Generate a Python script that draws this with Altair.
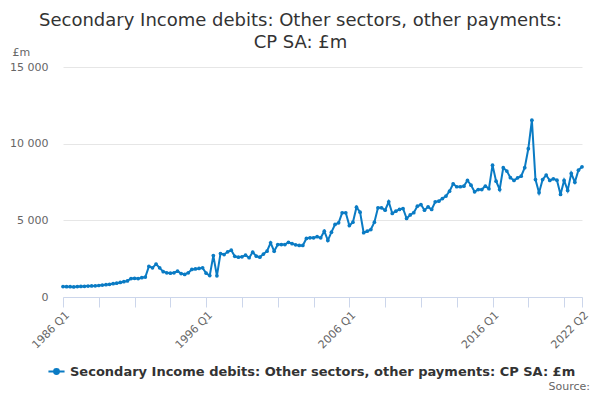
import altair as alt
import pandas as pd

# Quarterly series, 1986 Q1 .. 2022 Q2 (£m)
first_year = 1986
values_1986_1991 = [680, 670, 670, 660, 680, 690, 700, 710, 720, 730, 750, 780,
                    800, 830, 870, 900, 950, 1000, 1050, 1200, 1220, 1200, 1260, 1300]
values_1992_1997 = [2000, 1900, 2150, 1900, 1650, 1580, 1550, 1580, 1680, 1530, 1470, 1580,
                    1800, 1830, 1860, 1900, 1550, 1400, 2700, 1380, 2830, 2770, 2950, 3050]
values_1998_2004 = [2650, 2600, 2620, 2730, 2560, 2920, 2660, 2600, 2800, 2990, 3530, 2990,
                    3420, 3420, 3420, 3570, 3480, 3400, 3360, 3360, 3820, 3860, 3860, 3930,
                    3860, 4290, 3690]
values_2004_2011 = [4230, 4730, 4840, 5490, 5490, 4660, 4880, 5860, 5530, 4190, 4290, 4400,
                    4880, 5820, 5820, 5660, 6210, 5450, 5600, 5710, 5770, 5120, 5350, 5500,
                    5920, 6030, 5660, 5880, 5710, 6210]
values_2012_2017 = [6250, 6420, 6580, 6900, 7380, 7190, 7190, 7230, 7600, 7290, 6860, 7010,
                    7010, 7230, 7060, 8600, 7550, 7010, 8430, 8210, 7780]
values_2017_2022 = [7600, 7770, 7880, 8430, 9670, 11530, 7660, 6800, 7660, 7950, 7600, 7710,
                    7620, 6690, 7600, 6950, 8060, 7490, 8270, 8490]

series_name = "Secondary Income debits: Other sectors, other payments: CP SA: £m"
tick_positions = [0, 10, 20, 30, 40, 50, 60, 70, 80, 90, 100, 110, 120, 130, 140, 145]
labelled_positions = [0, 40, 80, 120, 145]
y_ticks = [0, 5000, 10000, 15000]

values = (values_1986_1991 + values_1992_1997 + values_1998_2004
          + values_2004_2011 + values_2012_2017 + values_2017_2022)
df = pd.DataFrame({
    "idx": list(range(len(values))),
    "value": values,
    "series": series_name,
})

blue = "#0a7bc4"
font = "DejaVu Sans"

label_expr = (
    "indexof([" + ",".join(str(v) for v in labelled_positions) + "], datum.value) >= 0 ? "
    f"(floor(datum.value / 4) + {first_year}) + ' Q' + (datum.value % 4 + 1) : ''"
)

symbol_path = ("M-1,0H1M-0.3,0a0.3,0.3 0 1,0 0.6,0a0.3,0.3 0 1,0 -0.6,0Z")

line = alt.Chart(df).mark_line(
    strokeWidth=2,
    point=alt.OverlayMarkDef(filled=True, size=14, color=blue),
).encode(
    x=alt.X("idx:Q",
            scale=alt.Scale(domain=[0, 145], nice=False, zero=False),
            axis=alt.Axis(values=tick_positions, labelExpr=label_expr, title=None,
                          grid=False, domainColor="#ccd6eb", tickColor="#ccd6eb",
                          tickSize=10, labelAngle=-45, labelAlign="right",
                          labelBaseline="top", labelFontSize=11, labelColor="#666666",
                          labelFont=font, labelPadding=2, labelOverlap=False,
                          labelFlush=False)),
    y=alt.Y("value:Q",
            scale=alt.Scale(domain=[0, 15000], nice=False),
            axis=alt.Axis(values=y_ticks,
                          labelExpr="replace(format(datum.value, ','), /,/g, ' ')",
                          title="£m", titleAngle=0, titleX=-51, titleY=-15,
                          titleAlign="left", titleBaseline="middle",
                          titleFont=font, titleFontSize=11, titleFontWeight="normal",
                          titleColor="#666666",
                          domain=False, ticks=False, gridColor="#e6e6e6",
                          labelFontSize=11, labelColor="#666666", labelFont=font,
                          labelPadding=15)),
    color=alt.Color("series:N",
                    scale=alt.Scale(range=[blue]),
                    legend=alt.Legend(title=None, orient="none", legendX=-16, legendY=295,
                                      symbolType=symbol_path, symbolSize=260,
                                      symbolStrokeWidth=2, symbolFillColor=blue,
                                      labelFont=font, labelFontSize=13,
                                      labelFontWeight="bold", labelColor="#333333",
                                      labelLimit=0)),
)

source = alt.Chart(pd.DataFrame({"t": ["Source:"]})).mark_text(
    align="right", baseline="middle", font=font, fontSize=11, color="#666666"
).encode(text="t:N", x=alt.value(527), y=alt.value(320))

chart = (line + source).properties(
    width=519,
    height=230,
    padding={"left": 55, "top": 59, "right": 10, "bottom": 95},
    autosize=alt.AutoSizeParams(type="none"),
    title=alt.TitleParams(
        ["Secondary Income debits: Other sectors, other payments:", "CP SA: £m"],
        anchor="middle", frame="group", dx=-22, dy=10, font=font, fontSize=18,
        fontWeight="normal", color="#333333", lineHeight=22,
    ),
).configure_view(stroke=None)

chart.save("out.html", embed_options={"renderer": "svg", "actions": False})
